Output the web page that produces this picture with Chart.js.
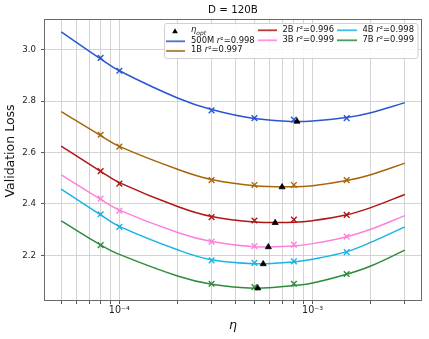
<!DOCTYPE html>
<html><head><meta charset="utf-8">
<script src="https://cdn.jsdelivr.net/npm/chart.js@4.4.1/dist/chart.umd.min.js"></script>
<style>html,body{margin:0;padding:0;background:#fff;} #wrap{width:429px;height:339px;position:relative;}</style>
</head><body><div id="wrap"><canvas id="c" width="429" height="339"></canvas></div>
<script>
// ---- data ----
const seriesNames = ['500M', '1B', '2B', '3B', '4B', '7B'];
const r2Values = ['0.998', '0.997', '0.996', '0.999', '0.998', '0.999'];

// measured runs (x markers)
const etaData = [8e-5, 1e-4, 3e-4, 5e-4, 8e-4, 1.5e-3];
const loss500M = [2.968, 2.918, 2.764, 2.734, 2.728, 2.734];
const loss1B   = [2.669, 2.623, 2.493, 2.474, 2.474, 2.493];
const loss2B   = [2.528, 2.479, 2.349, 2.336, 2.339, 2.358];
const loss3B   = [2.421, 2.374, 2.254, 2.236, 2.242, 2.273];
const loss4B   = [2.360, 2.311, 2.181, 2.171, 2.177, 2.213];
const loss7B   = [2.240, null,  2.090, 2.077, 2.090, 2.128];

// fitted curves, read at these learning rates
const etaFit = [5e-5, 8e-5, 1e-4, 2e-4, 3e-4, 5e-4, 8e-4, 1e-3, 1.5e-3, 2e-3, 3e-3];
const fit500M = [3.069, 2.964, 2.918, 2.812, 2.767, 2.732, 2.721, 2.723, 2.736, 2.755, 2.794];
const fit1B   = [2.759, 2.666, 2.624, 2.535, 2.495, 2.471, 2.467, 2.471, 2.491, 2.514, 2.559];
const fit2B   = [2.625, 2.527, 2.483, 2.390, 2.351, 2.330, 2.329, 2.335, 2.358, 2.386, 2.437];
const fit3B   = [2.513, 2.418, 2.376, 2.289, 2.254, 2.234, 2.237, 2.246, 2.273, 2.302, 2.355];
const fit4B   = [2.458, 2.358, 2.313, 2.222, 2.183, 2.168, 2.175, 2.185, 2.215, 2.251, 2.311];
const fit7B   = [2.334, 2.241, 2.204, 2.120, 2.088, 2.073, 2.083, 2.093, 2.127, 2.159, 2.221];

// optimal learning rate per model (black triangles)
const etaOpt  = [8.3e-4, 6.95e-4, 6.4e-4, 5.9e-4, 5.55e-4, 5.2e-4];
const lossOpt = [2.721, 2.466, 2.327, 2.233, 2.167, 2.073];

// axes
const yTicks = [2.2, 2.4, 2.6, 2.8, 3.0];
const xMajorTicks = [1e-4, 1e-3];
const xMajorLabels = ['10\u207B\u2074', '10\u207B\u00B3'];
const xMinorTicks = [5e-5, 6e-5, 7e-5, 8e-5, 9e-5, 2e-4, 3e-4, 4e-4, 5e-4, 6e-4, 7e-4, 8e-4, 9e-4, 2e-3, 3e-3];
const titleText = 'D = 120B';
const yLabelText = 'Validation Loss';
const xLabelText = '\u03B7';

// ---- styling ----
const colors = ['#2a55d5', '#a8640a', '#b01515', '#ff80dc', '#18b4e4', '#2e8b3e'];
const lossData = [loss500M, loss1B, loss2B, loss3B, loss4B, loss7B];
const fitData = [fit500M, fit1B, fit2B, fit3B, fit4B, fit7B];
const FONT = "'DejaVu Sans', 'Liberation Sans', sans-serif";

const datasets = [];
seriesNames.forEach((name, i) => {
  datasets.push({
    label: name + ' fit',
    data: etaFit.map((x, j) => ({x: x, y: fitData[i][j]})),
    showLine: true, borderColor: colors[i], backgroundColor: colors[i],
    borderWidth: 1.5, pointRadius: 0, tension: 0.4, order: 3
  });
  datasets.push({
    label: name,
    data: etaData.map((x, j) => ({x: x, y: lossData[i][j]})).filter(p => p.y !== null),
    showLine: false, pointStyle: 'crossRot', pointRadius: 4, borderWidth: 1.4,
    borderColor: colors[i], backgroundColor: colors[i], order: 2
  });
});
datasets.push({
  label: 'eta_opt',
  data: etaOpt.map((x, j) => ({x: x, y: lossOpt[j]})),
  showLine: false, pointStyle: 'triangle', pointRadius: 3.5, borderWidth: 0.8,
  borderColor: '#000', backgroundColor: '#000', order: 1
});

const allXTicks = xMinorTicks.concat(xMajorTicks).sort((a, b) => a - b);

const decor = {
  id: 'decor',
  afterDraw(chart) {
    const ctx = chart.ctx;
    const ca = chart.chartArea;
    ctx.save();
    // spines
    ctx.strokeStyle = '#6a6a6a';
    ctx.lineWidth = 1;
    ctx.strokeRect(ca.left + 0.5, ca.top + 0.5, ca.right - ca.left - 1, ca.bottom - ca.top - 1);

    // title
    ctx.fillStyle = '#111';
    ctx.textAlign = 'center';
    ctx.textBaseline = 'middle';
    ctx.font = '10.3px ' + FONT;
    ctx.fillText(titleText, (ca.left + ca.right) / 2, 10);

    // x label
    ctx.font = 'italic 12.5px ' + FONT;
    ctx.fillText(xLabelText, (ca.left + ca.right) / 2, 326);

    // y label
    ctx.save();
    ctx.translate(11, 151);
    ctx.rotate(-Math.PI / 2);
    ctx.font = '12.5px ' + FONT;
    ctx.fillText(yLabelText, 0, 0);
    ctx.restore();

    // legend box
    const bx = 164.5, by = 23.5, bw = 253.5, bh = 35, r = 2.5;
    ctx.beginPath();
    ctx.moveTo(bx + r, by);
    ctx.lineTo(bx + bw - r, by); ctx.arcTo(bx + bw, by, bx + bw, by + r, r);
    ctx.lineTo(bx + bw, by + bh - r); ctx.arcTo(bx + bw, by + bh, bx + bw - r, by + bh, r);
    ctx.lineTo(bx + r, by + bh); ctx.arcTo(bx, by + bh, bx, by + bh - r, r);
    ctx.lineTo(bx, by + r); ctx.arcTo(bx, by, bx + r, by, r);
    ctx.closePath();
    ctx.fillStyle = 'rgba(255,255,255,0.85)';
    ctx.fill();
    ctx.strokeStyle = '#d0d0d0';
    ctx.lineWidth = 1;
    ctx.stroke();

    ctx.textAlign = 'left';
    ctx.textBaseline = 'middle';
    const fs = 8.4;
    function entryText(x, y, name, r2) {
      ctx.fillStyle = '#111';
      ctx.font = fs + 'px ' + FONT;
      const t1 = name + ' ';
      ctx.fillText(t1, x, y);
      x += ctx.measureText(t1).width;
      ctx.font = 'italic ' + fs + 'px ' + FONT;
      ctx.fillText('r', x, y);
      x += ctx.measureText('r').width;
      ctx.font = fs + 'px ' + FONT;
      const t2 = '\u00B2=' + r2;
      ctx.fillText(t2, x, y);
    }
    function handle(x1, x2, y, c) {
      ctx.strokeStyle = c;
      ctx.globalAlpha = 0.85;
      ctx.lineWidth = 1.8;
      ctx.beginPath(); ctx.moveTo(x1, y); ctx.lineTo(x2, y); ctx.stroke();
      ctx.globalAlpha = 1;
    }
    // column 1: eta_opt
    const tx = 175, ty = 31.5, tr = 3.3;
    ctx.fillStyle = '#000';
    ctx.beginPath();
    ctx.moveTo(tx, ty - tr);
    ctx.lineTo(tx + tr * 0.866, ty + tr * 0.5);
    ctx.lineTo(tx - tr * 0.866, ty + tr * 0.5);
    ctx.closePath(); ctx.fill();
    ctx.fillStyle = '#111';
    ctx.font = 'italic ' + fs + 'px ' + FONT;
    ctx.fillText('\u03B7', 191, 30);
    const ew = ctx.measureText('\u03B7').width;
    ctx.font = 'italic 5.9px ' + FONT;
    ctx.fillText('opt', 191 + ew, 33);

    const pos = [
      [166, 185, 41.3, 191, 40.5],
      [166, 185, 51.0, 191, 50.3],
      [258, 277, 30.3, 282.5, 29.5],
      [258, 277, 40.3, 282.5, 39.5],
      [337, 357, 30.3, 362.5, 29.5],
      [337, 357, 40.3, 362.5, 39.5]
    ];
    seriesNames.forEach((name, i) => {
      const p = pos[i];
      handle(p[0], p[1], p[2], colors[i]);
      entryText(p[3], p[4], name, r2Values[i]);
    });
    ctx.restore();
  }
};

new Chart(document.getElementById('c'), {
  type: 'scatter',
  data: {datasets: datasets},
  options: {
    responsive: false,
    animation: false,
    devicePixelRatio: 1,
    layout: {padding: {left: 0, right: 7, top: 19, bottom: 0}},
    plugins: {legend: {display: false}, tooltip: {enabled: false}, title: {display: false}},
    scales: {
      x: {
        type: 'logarithmic',
        min: 4.074e-5, max: 3.681e-3,
        afterFit(s) { s.height = 38; },
        afterBuildTicks(s) { s.ticks = allXTicks.map(v => ({value: v})); },
        ticks: {
          autoSkip: false, maxRotation: 0, minRotation: 0, padding: 1,
          color: '#222', font: {family: FONT, size: 9.6},
          callback: (v) => {
            const k = xMajorTicks.findIndex(m => Math.abs(m - v) / m < 1e-6);
            return k >= 0 ? xMajorLabels[k] : '';
          }
        },
        grid: {color: '#cfcfcf', lineWidth: 0.9, tickColor: '#444', tickLength: 3, drawTicks: true},
        border: {display: false}
      },
      y: {
        type: 'linear',
        min: 2.023, max: 3.119,
        afterFit(s) { s.width = 44; },
        afterBuildTicks(s) { s.ticks = yTicks.map(v => ({value: v})); },
        ticks: {
          padding: 5, color: '#222', font: {family: FONT, size: 8.6},
          callback: (v) => Number(v).toFixed(1)
        },
        grid: {color: '#cfcfcf', lineWidth: 0.9, tickColor: '#444', tickLength: 3, drawTicks: true},
        border: {display: false}
      }
    }
  },
  plugins: [decor]
});
</script>
</body></html>
